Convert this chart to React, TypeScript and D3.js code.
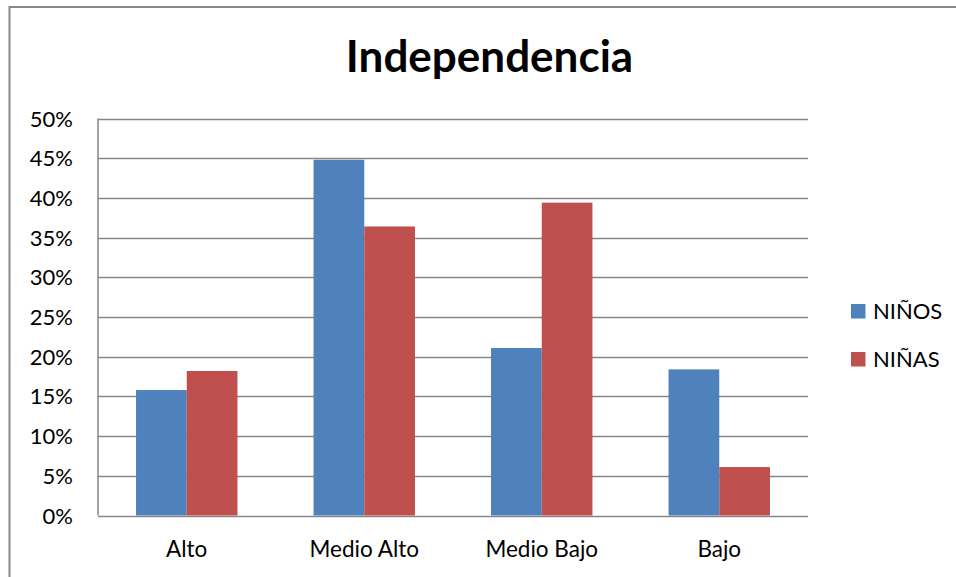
import React from "react";
import * as d3 from "d3";

const categories = ["Alto", "Medio Alto", "Medio Bajo", "Bajo"];
const seriesNames = ["NIÑOS", "NIÑAS"];
const ninos = [0.158, 0.448, 0.211, 0.184];
const ninas = [0.182, 0.364, 0.394, 0.061];
const yTicks = [0, 0.05, 0.1, 0.15, 0.2, 0.25, 0.3, 0.35, 0.4, 0.45, 0.5];
const colors = ["#4F81BD", "#C0504D"];

const W = 956;
const H = 577;
const plot = { left: 98, right: 808, top: 118.5, bottom: 515.5 };
const font = "Lato, 'Open Sans', sans-serif";

export default function App() {
  const x0 = d3.scaleBand().domain(categories).range([plot.left, plot.right]).paddingInner(0).paddingOuter(0);
  const groupInner = x0.bandwidth() / 3.5;
  const x1 = d3
    .scaleBand()
    .domain(seriesNames)
    .range([0, groupInner * 2]);
  const y = d3.scaleLinear().domain([0, 0.5]).range([plot.bottom, plot.top]);
  const fmt = d3.format(".0%");
  const series = [ninos, ninas];

  return (
    <svg
      width={W}
      height={H}
      style={{ position: "absolute", left: 0, top: 0, background: "#fff" }}
      fontFamily={font}
    >
      <rect x={0} y={0} width={W} height={H} fill="#fff" />
      {/* outer chart border */}
      <path d={`M9.5,${H} L9.5,7 L${W},7`} fill="none" stroke="#878787" strokeWidth={2} />

      <text x={489.5} y={72} textAnchor="middle" fontSize={44} fontWeight={700} fill="#000">
        Independencia
      </text>

      {/* gridlines */}
      {yTicks.map((t) => (
        <line
          key={"g" + t}
          x1={plot.left}
          x2={plot.right}
          y1={Math.round(y(t)) + 0.5}
          y2={Math.round(y(t)) + 0.5}
          stroke="#868686"
          strokeWidth={1.5}
        />
      ))}
      {/* y axis line */}
      <line x1={plot.left} x2={plot.left} y1={plot.top} y2={plot.bottom} stroke="#868686" strokeWidth={1.5} />

      {/* y tick labels */}
      {yTicks.map((t) => (
        <text key={"t" + t} x={73} y={y(t) + 8} textAnchor="end" fontSize={22} fill="#000">
          {fmt(t)}
        </text>
      ))}

      {/* bars */}
      {categories.map((c, i) => (
        <g key={c} transform={`translate(${(x0(c) as number) + (x0.bandwidth() - groupInner * 2) / 2},0)`}>
          {series.map((s, j) => (
            <rect
              key={j}
              x={x1(seriesNames[j]) as number}
              y={y(s[i])}
              width={x1.bandwidth()}
              height={y(0) - y(s[i])}
              fill={colors[j]}
            />
          ))}
        </g>
      ))}

      {/* x axis labels */}
      {categories.map((c) => (
        <text
          key={"x" + c}
          x={(x0(c) as number) + x0.bandwidth() / 2}
          y={557}
          textAnchor="middle"
          fontSize={22.5}
          fill="#000"
        >
          {c}
        </text>
      ))}

      {/* legend */}
      {seriesNames.map((n, j) => (
        <g key={n} transform={`translate(851,${304 + j * 48})`}>
          <rect x={0} y={0} width={14.5} height={14.5} fill={colors[j]} />
          <text x={22} y={15} fontSize={22} fill="#000">
            {n}
          </text>
        </g>
      ))}
    </svg>
  );
}
